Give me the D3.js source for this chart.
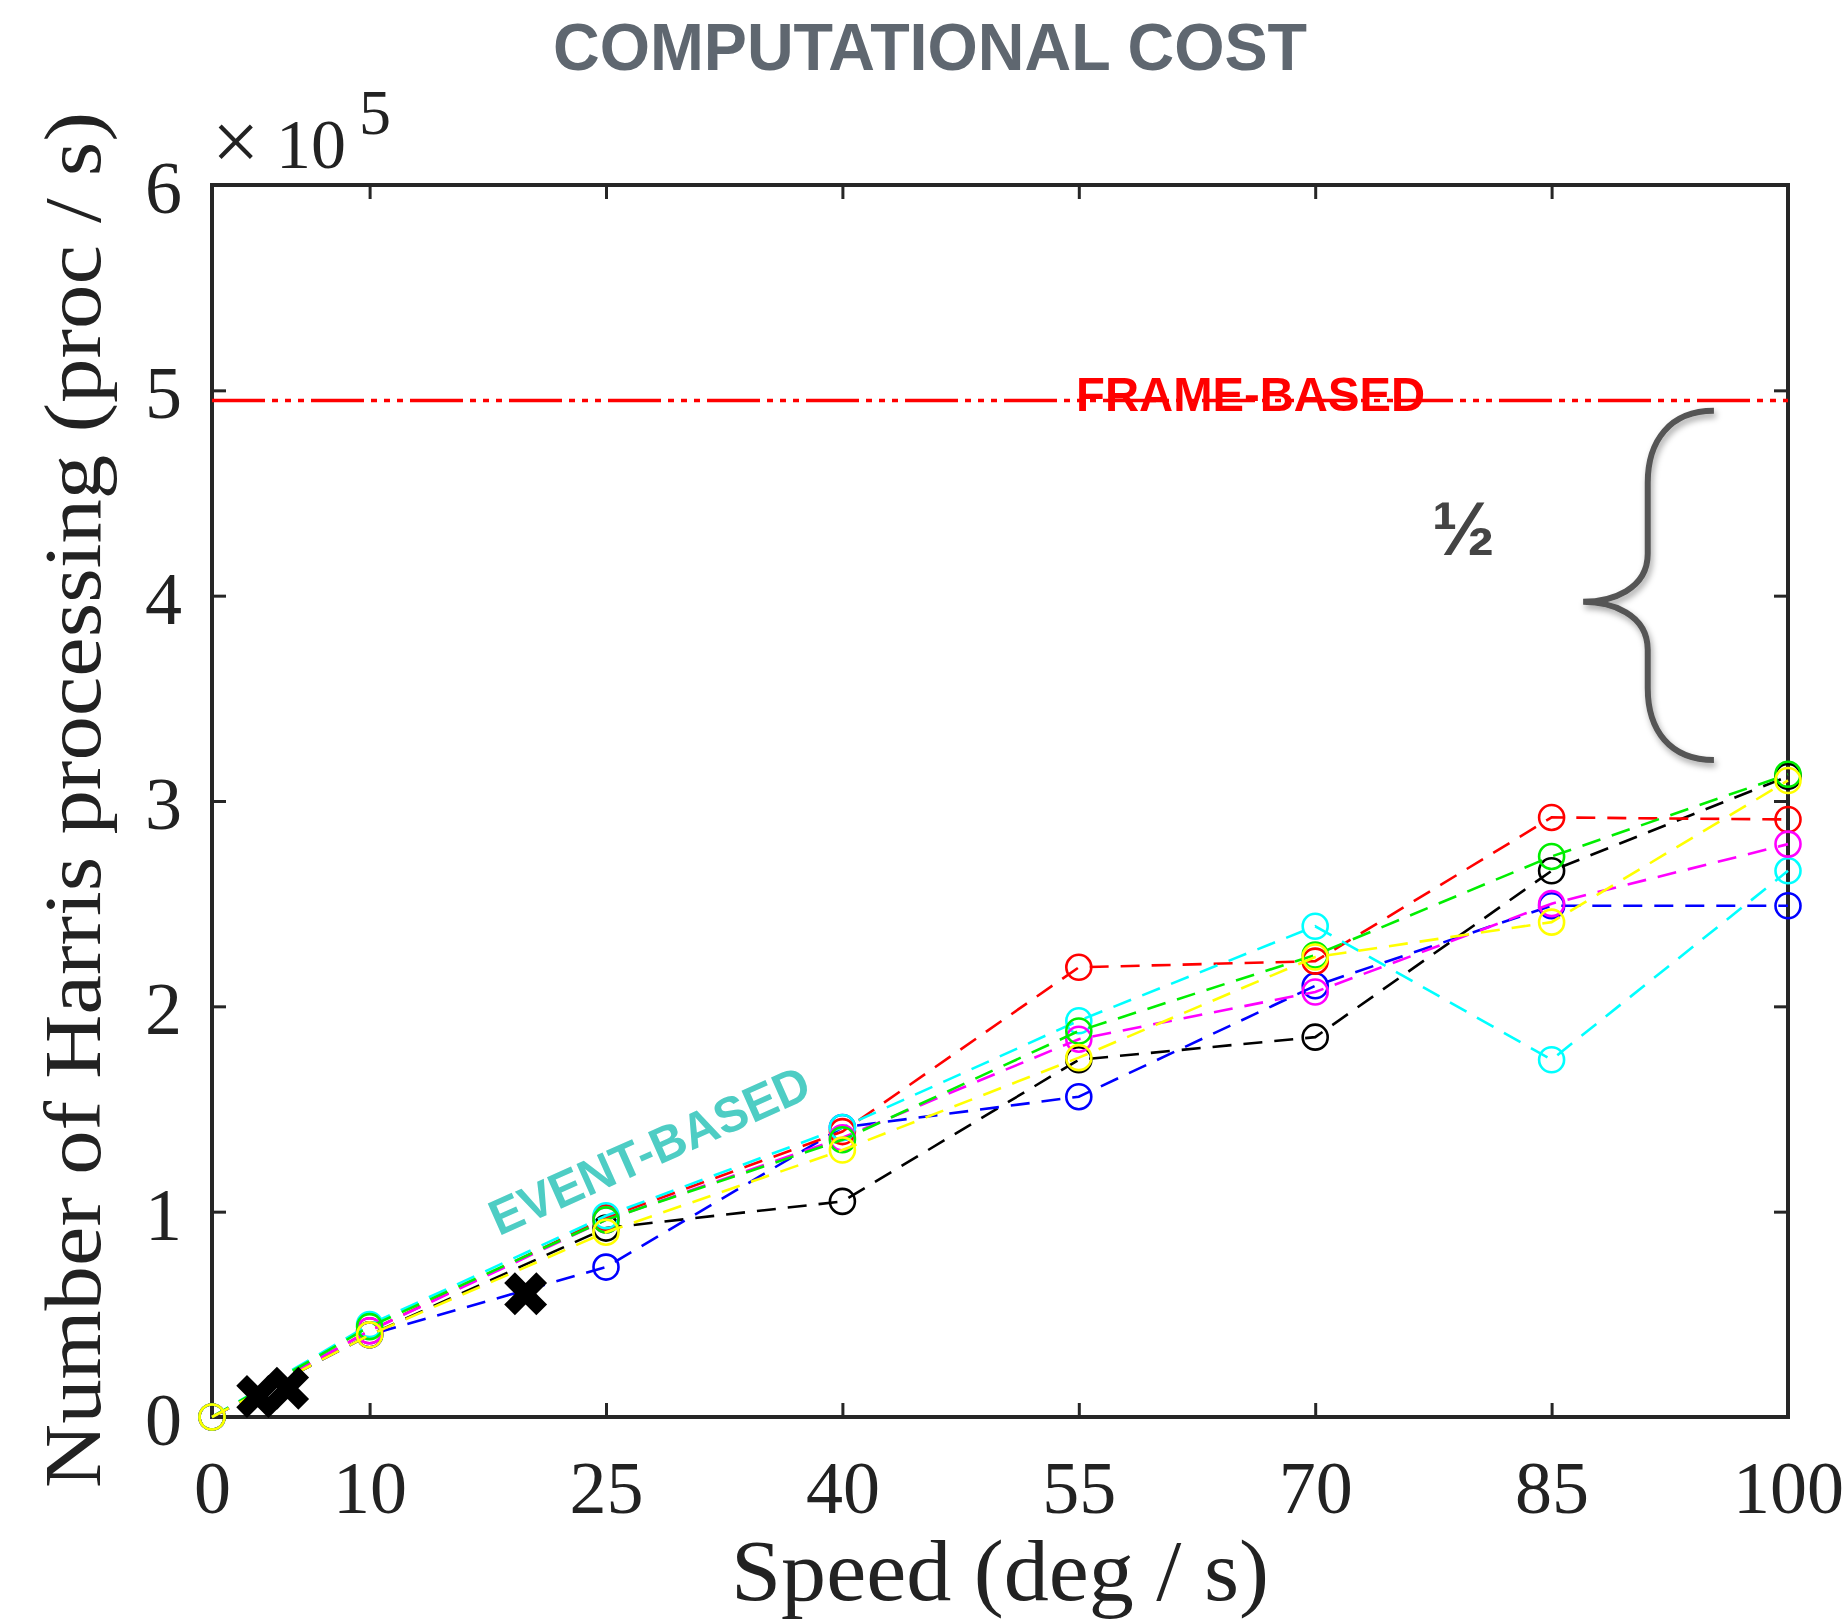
<!DOCTYPE html>
<html>
<head>
<meta charset="utf-8">
<script src="https://cdn.jsdelivr.net/npm/d3@7"></script>
<style>
  body { margin: 0; background: #fff; }
  svg { display: block; }
  .tick-lbl { font-family: "Liberation Serif", "Times New Roman", serif; fill: #222; }
</style>
</head>
<body>
<div id="chart"></div>
<script>
// speeds (deg / s) where every run was measured
const speeds = [0, 10, 25, 40, 55, 70, 85, 100];

// Harris processing per second, in units of 1e5
const redVals     = [0, 0.42, 0.97, 1.39, 2.19, 2.22, 2.92, 2.91];
const greenVals   = [0, 0.44, 0.96, 1.35, 1.88, 2.25, 2.73, 3.13];
const blueVals    = [0, 0.40, 0.73, 1.41, 1.56, 2.10, 2.49, 2.49];
const cyanVals    = [0, 0.45, 0.98, 1.41, 1.93, 2.39, 1.74, 2.66];
const magentaVals = [0, 0.42, 0.96, 1.36, 1.84, 2.07, 2.50, 2.79];
const yellowVals  = [0, 0.40, 0.90, 1.30, 1.75, 2.24, 2.41, 3.10];
const blackVals   = [0, 0.40, 0.92, 1.05, 1.74, 1.85, 2.66, 3.12];

// bold black crosses near the origin
const crossSpeeds = [2.9, 4.8, 19.9];
const crossVals   = [0.10, 0.14, 0.60];

// frame-based reference level
const frameBasedVal = 4.95;

const xTicks = [0, 10, 25, 40, 55, 70, 85, 100];
const yTicks = [0, 1, 2, 3, 4, 5, 6];

const series = [
  { color: '#000000', values: blackVals },
  { color: '#0000ff', values: blueVals },
  { color: '#ff0000', values: redVals },
  { color: '#00ffff', values: cyanVals },
  { color: '#ff00ff', values: magentaVals },
  { color: '#00ee00', values: greenVals },
  { color: '#ffff00', values: yellowVals }
];

const W = 1845, H = 1619;
const margin = { top: 185, right: 57, bottom: 202, left: 212 };
const width = W - margin.left - margin.right;
const height = H - margin.top - margin.bottom;

const svg = d3.select('#chart').append('svg')
  .attr('width', W)
  .attr('height', H);

const defs = svg.append('defs');
const shadow = defs.append('filter').attr('id', 'shadow')
  .attr('x', '-50%').attr('y', '-20%').attr('width', '200%').attr('height', '140%');
shadow.append('feDropShadow')
  .attr('dx', 2).attr('dy', 4).attr('stdDeviation', 3)
  .attr('flood-color', '#000').attr('flood-opacity', 0.35);

// title
svg.append('text')
  .attr('x', 930).attr('y', 70)
  .attr('text-anchor', 'middle')
  .attr('textLength', 754).attr('lengthAdjust', 'spacingAndGlyphs')
  .style('font-family', '"Liberation Sans", Arial, sans-serif')
  .style('font-weight', 'bold').style('font-size', '67px')
  .style('fill', '#5f6770')
  .text('COMPUTATIONAL COST');

const chart = svg.append('g')
  .attr('transform', `translate(${margin.left}, ${margin.top})`);

const x = d3.scaleLinear().domain([0, 100]).range([0, width]);
const y = d3.scaleLinear().domain([0, 6]).range([height, 0]);

// axes, ticks pointing inward
const xAxis = chart.append('g')
  .attr('transform', `translate(0, ${height})`)
  .call(d3.axisBottom(x).tickValues(xTicks).tickSizeInner(-14).tickSizeOuter(0).tickFormat(d3.format('d')));
const xAxisTop = chart.append('g')
  .call(d3.axisTop(x).tickValues(xTicks).tickSizeInner(-14).tickSizeOuter(0).tickFormat(''));
const yAxis = chart.append('g')
  .call(d3.axisLeft(y).tickValues(yTicks).tickSizeInner(-14).tickSizeOuter(0).tickFormat(d3.format('d')));
const yAxisRight = chart.append('g')
  .attr('transform', `translate(${width}, 0)`)
  .call(d3.axisRight(y).tickValues(yTicks).tickSizeInner(-14).tickSizeOuter(0).tickFormat(''));

[xAxis, xAxisTop, yAxis, yAxisRight].forEach(a => {
  a.select('.domain').remove();
  a.selectAll('line').attr('stroke', '#262626').attr('stroke-width', 3);
});
xAxis.selectAll('text')
  .attr('class', 'tick-lbl')
  .attr('y', 96).attr('dy', 0)
  .style('font-size', '74px');
yAxis.selectAll('text')
  .attr('class', 'tick-lbl')
  .attr('x', -30).attr('dy', '0.37em')
  .style('font-size', '74px');

// frame
chart.append('rect')
  .attr('width', width).attr('height', height)
  .attr('fill', 'none').attr('stroke', '#262626').attr('stroke-width', 4);

// x10^5 multiplier
svg.append('text').attr('class', 'tick-lbl')
  .attr('x', 212).attr('y', 170)
  .style('font-size', '84px').style('font-weight', 300)
  .text('\u00d7');
svg.append('text').attr('class', 'tick-lbl')
  .attr('x', 276).attr('y', 168)
  .style('font-size', '70px')
  .text('10');
svg.append('text').attr('class', 'tick-lbl')
  .attr('x', 359).attr('y', 134)
  .style('font-size', '64px')
  .text('5');

// axis titles
svg.append('text').attr('class', 'tick-lbl')
  .attr('transform', 'translate(100, 800) rotate(-90)')
  .attr('text-anchor', 'middle')
  .attr('textLength', 1376).attr('lengthAdjust', 'spacingAndGlyphs')
  .style('font-size', '80px')
  .text('Number of Harris processing (proc / s)');
svg.append('text').attr('class', 'tick-lbl')
  .attr('x', 1000).attr('y', 1600)
  .attr('text-anchor', 'middle')
  .attr('textLength', 538).attr('lengthAdjust', 'spacingAndGlyphs')
  .style('font-size', '86px')
  .text('Speed (deg / s)');

// frame-based level
chart.append('line')
  .attr('x1', x(0)).attr('x2', x(100))
  .attr('y1', y(frameBasedVal)).attr('y2', y(frameBasedVal))
  .attr('stroke', '#ff0000').attr('stroke-width', 3.5)
  .attr('stroke-dasharray', '53,7,6,7,6,7,6,7');
chart.append('text')
  .attr('x', x(65.9)).attr('y', y(4.9))
  .attr('text-anchor', 'middle')
  .attr('textLength', 349).attr('lengthAdjust', 'spacingAndGlyphs')
  .style('font-family', '"Liberation Sans", Arial, sans-serif')
  .style('font-weight', 'bold').style('font-size', '49px')
  .style('fill', '#ff0000')
  .text('FRAME-BASED');

// event-based series
const line = d3.line()
  .x((d, i) => x(speeds[i]))
  .y(d => y(d));

series.forEach(s => {
  const g = chart.append('g');
  g.append('path')
    .datum(s.values)
    .attr('d', line)
    .attr('fill', 'none')
    .attr('stroke', s.color)
    .attr('stroke-width', 2.6)
    .attr('stroke-dasharray', '19,12');
  g.selectAll('circle')
    .data(s.values)
    .enter().append('circle')
    .attr('cx', (d, i) => x(speeds[i]))
    .attr('cy', d => y(d))
    .attr('r', 12.5)
    .attr('fill', 'none')
    .attr('stroke', s.color)
    .attr('stroke-width', 2.6);
});

// bold crosses
const cross = d3.symbol().type(d3.symbolCross).size(1150);
chart.selectAll('.cross')
  .data(crossSpeeds)
  .enter().append('path')
  .attr('class', 'cross')
  .attr('d', cross)
  .attr('transform', (d, i) => `translate(${x(d)}, ${y(crossVals[i])}) rotate(45)`)
  .attr('fill', '#000');

// event-based label
chart.append('text')
  .attr('transform', `translate(${x(18.2)}, ${y(0.88)}) rotate(-24)`)
  .attr('textLength', 345).attr('lengthAdjust', 'spacingAndGlyphs')
  .style('font-family', '"Liberation Sans", Arial, sans-serif')
  .style('font-weight', 'bold').style('font-size', '50px')
  .style('fill', '#4ecdc4')
  .text('EVENT-BASED');

// brace showing the 1/2 gap
const xr = x(95.3), xm = x(91.1), xt = x(87.0);
const yTop = y(4.9), yMid = y(3.97), yBot = y(3.2);
const brace = `M${xr},${yTop} C${xm + 22},${yTop} ${xm},${yTop + 30} ${xm},${yTop + 72}`
  + ` L${xm},${yMid - 48} C${xm},${yMid - 12} ${xt + 28},${yMid} ${xt},${yMid}`
  + ` C${xt + 28},${yMid} ${xm},${yMid + 12} ${xm},${yMid + 48}`
  + ` L${xm},${yBot - 72} C${xm},${yBot - 30} ${xm + 22},${yBot} ${xr},${yBot}`;
chart.append('path')
  .attr('d', brace)
  .attr('fill', 'none')
  .attr('stroke', '#555')
  .attr('stroke-width', 6)
  .attr('filter', 'url(#shadow)');
chart.append('text')
  .attr('x', x(79.4)).attr('y', y(4.2))
  .attr('text-anchor', 'middle')
  .style('font-family', '"Liberation Sans", Arial, sans-serif')
  .style('font-weight', 'bold').style('font-size', '76px')
  .style('fill', '#444')
  .text('\u00bd');
</script>
</body>
</html>
